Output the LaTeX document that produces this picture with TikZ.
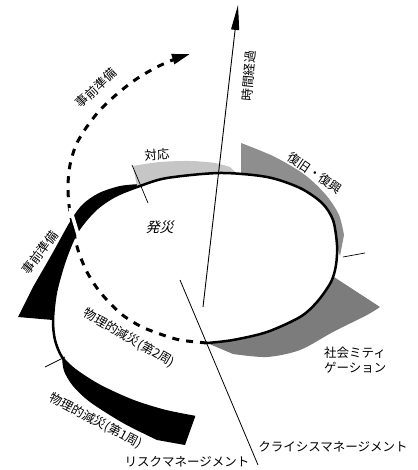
\documentclass[tikz,border=0pt]{standalone}
\usepackage{fontspec}
\newfontfamily\jpfont{Noto Sans CJK JP}
\usetikzlibrary{arrows.meta}
\definecolor{response}{HTML}{C6C6C6}
\definecolor{recovery}{HTML}{8E8E8E}
\definecolor{mitigation}{HTML}{7C7C7C}

\begin{document}
\begin{tikzpicture}[x=1pt,y=-1pt,
  jptext/.style={font=\jpfont\fontsize{12.5pt}{15pt}\selectfont,inner sep=0pt}]
  \useasboundingbox (0,0) rectangle (417,470);

  % Bands along the spiral
  \fill[black] plot[smooth] coordinates {(62,357) (75,370) (100,386) (133,401) (165,411) (195,417)}
    -- (185,445) -- plot[smooth] coordinates {(157,440) (123,423) (90,402) (73,386) (64,371) (62,357)} -- cycle;
  \fill[black] plot[smooth] coordinates {(140,186) (115,196) (95,210) (77,232) (65,260) (56,292) (53,320)}
    -- (18,317) -- plot[smooth] coordinates {(33,287) (52,254) (71,220) (83,204) (99,193) (120,186) (140,184)} -- cycle;
  \fill[response] plot[smooth] coordinates {(137,186) (167,178) (220,173) (237,174)}
    -- plot[smooth] coordinates {(230,167) (215,163) (190,161) (160,162) (133,166)} -- cycle;
  \fill[recovery] plot[smooth] coordinates {(241,175) (267,177) (300,188) (322,203) (333,220) (337,245) (340,256)}
    -- plot[smooth] coordinates {(344,235) (339,215) (326,195) (305,175) (275,157) (241,143)} -- cycle;
  \fill[mitigation] plot[smooth] coordinates {(334,277) (317,302) (300,317) (267,332) (233,340) (207,343)}
    -- plot[smooth] coordinates {(233,354) (267,357) (300,350) (333,332) (367,315) (380,307)} -- cycle;

  % The spiral
  \draw[line width=2.5pt] plot[smooth] coordinates {(195,417) (165,411) (133,401) (100,386) (75,370)
    (62,357) (55,340) (53,320) (56,292) (65,260) (77,232) (95,210) (115,196) (140,186) (167,178)
    (220,173) (267,177) (300,188) (322,203) (333,220) (337,245) (336,265) (331,282) (317,302)
    (300,317) (267,332) (233,340) (207,343)};

  % Second round, dashed
  \draw[line width=3pt,dash pattern=on 7pt off 7pt,-{Triangle[length=18pt,width=10pt]}]
    plot[smooth] coordinates {(207,343) (180,340) (160,334) (140,326) (120,313) (100,292) (87,272)
    (78,250) (73,228) (69,205) (68,185) (70,165) (76,145) (86,128) (100,110) (117,94) (135,80)
    (155,68) (175,59) (190,54)};
  \draw[white,line width=3.5pt] (80,241) -- (70,208);

  % Time axis
  \draw[line width=0.9pt,-{Triangle[length=25pt,width=8pt]}] (203,307) -- (238,5);

  % Ticks and the divide
  \draw[line width=0.7pt] (132,165) -- (148,203);
  \draw[line width=0.7pt] (343,257) -- (365,253);
  \draw[line width=0.7pt] (45,367) -- (65,357);
  \draw[line width=0.8pt] (180,280) -- (258,465);

  % Labels
  \node[jptext,rotate=85] (time) at (249,76) {時間経過};
  \node[jptext,rotate=43] (prep2) at (96,88) {事前準備};
  \node[jptext,rotate=5] (response) at (157,155) {対応};
  \node[jptext,rotate=-34] (recovery) at (315,173) {復旧・復興};
  \node[jptext,xslant=0.25,font=\jpfont\fontsize{14pt}{16pt}\selectfont] (onset) at (161,227) {発災};
  \node[jptext,rotate=53] (prep1) at (40,253) {事前準備};
  \node[jptext,rotate=-30] (phys2) at (129,338) {物理的減災(第2周)};
  \node[jptext,rotate=-28] (phys1) at (96,421) {物理的減災(第1周)};
  \node[jptext,align=left,anchor=west] (social) at (324,360) {社会ミティ\\ゲーション};
  \node[jptext] (crisis) at (333,447) {クライシスマネージメント};
  \node[jptext] (risk) at (187,462) {リスクマネージメント};
\end{tikzpicture}
\end{document}
